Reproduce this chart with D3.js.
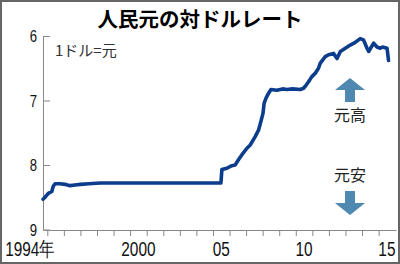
<!DOCTYPE html>
<html>
<head>
<meta charset="utf-8">
<script src="https://cdn.jsdelivr.net/npm/d3@7"></script>
<style>
  body { margin: 0; background: #fff; }
  svg { display: block; }
  text { font-family: "Liberation Sans", Arial, sans-serif; }
  .jp { font-family: "Noto Sans CJK JP", sans-serif; }
</style>
</head>
<body>
<svg id="chart" width="400" height="264"></svg>
<script>
// 人民元の対ドルレート (1ドル=元)
const years = [
    1994.74, 1994.86, 1995.06, 1995.27, 1995.36, 1995.47, 1995.77, 1996.07, 1996.37, 1996.67,
    1997.0, 1997.5, 1998.2, 1999.5, 2001.0, 2003.0, 2005.0, 2005.48,
    2005.54, 2005.84, 2006.14, 2006.34, 2006.54, 2006.75, 2007.05, 2007.25, 2007.55, 2007.75,
    2007.89, 2008.02, 2008.09, 2008.21, 2008.35, 2008.5, 2008.86, 2009.2, 2009.47, 2009.8,
    2010.27, 2010.47, 2010.63, 2010.77, 2010.97, 2011.17, 2011.37, 2011.48, 2011.78, 2011.98,
    2012.28, 2012.49, 2012.69, 2012.99, 2013.29, 2013.59, 2013.89, 2014.09, 2014.3, 2014.4,
    2014.7, 2014.9, 2015.1, 2015.24, 2015.51, 2015.6
];
const rates = [
    8.53, 8.5, 8.44, 8.41, 8.33, 8.29, 8.29, 8.3, 8.32, 8.31,
    8.3, 8.29, 8.28, 8.28, 8.28, 8.28, 8.28, 8.28,
    8.07, 8.05, 8.01, 8.0, 7.92, 7.84, 7.74, 7.69, 7.56, 7.46,
    7.33, 7.2, 7.04, 6.96, 6.89, 6.83, 6.84, 6.82, 6.83, 6.82,
    6.83, 6.81, 6.76, 6.71, 6.63, 6.58, 6.5, 6.42, 6.32, 6.29,
    6.27, 6.35, 6.24, 6.19, 6.14, 6.1, 6.04, 6.06, 6.19, 6.24,
    6.11, 6.17, 6.19, 6.17, 6.19, 6.38
];
const yTicks = [6, 7, 8, 9];
const xTickYears = d3.range(1995, 2016);
const xLabels = [
    { year: 1994, text: '1994年' },
    { year: 2000, text: '2000' },
    { year: 2005, text: '05' },
    { year: 2010, text: '10' },
    { year: 2015, text: '15' },
];

const svg = d3.select('#chart');

const x = d3.scaleLinear().domain([1994.74, 2016.05]).range([43, 396]);
const y = d3.scaleLinear().domain([6, 9]).range([36, 229.5]);

// frame
svg.append('rect')
    .attr('x', 1).attr('y', 1).attr('width', 398).attr('height', 262)
    .attr('fill', 'none').attr('stroke', '#666').attr('stroke-width', 2);

// title
svg.append('text').attr('class', 'jp')
    .attr('x', 200).attr('y', 27)
    .attr('text-anchor', 'middle')
    .style('font-size', '20.5px').style('font-weight', 'bold')
    .text('人民元の対ドルレート');

svg.append('text').attr('class', 'jp')
    .attr('x', 55).attr('y', 56)
    .style('font-size', '15px').attr('fill', '#333')
    .text('1ドル=元');

// y axis, ticks pointing inward
const yAxis = svg.append('g')
    .attr('transform', 'translate(43,0)')
    .call(d3.axisLeft(y).tickValues(yTicks).tickFormat(d3.format('d'))
        .tickSizeInner(-7).tickSizeOuter(0));
yAxis.selectAll('path, line').attr('stroke', '#888');
yAxis.selectAll('.tick text')
    .attr('x', 0)
    .attr('dy', '0.36em')
    .attr('text-anchor', 'end')
    .attr('transform', 'translate(-6,0) scale(0.82,1)')
    .style('font-size', '16px').attr('fill', '#111');

// x axis
const xAxis = svg.append('g')
    .attr('transform', 'translate(0,230)')
    .call(d3.axisBottom(x).tickValues(xTickYears).tickFormat('').tickSizeInner(6).tickSizeOuter(0));
xAxis.selectAll('path, line').attr('stroke', '#888');

svg.append('g').selectAll('text').data(xLabels).enter().append('text')
    .attr('transform', d => `translate(${d.year === 1994 ? 30 : x(d.year + 0.5)},256) scale(0.77,1)`)
    .attr('text-anchor', 'middle')
    .style('font-size', '20px').attr('fill', '#111')
    .text(d => d.text);

// line
const line = d3.line().x((d, i) => x(years[i])).y(d => y(d));
svg.append('path')
    .datum(rates)
    .attr('d', line)
    .attr('fill', 'none')
    .attr('stroke', '#0c3d8c')
    .attr('stroke-width', 3.6)
    .attr('stroke-linejoin', 'round')
    .attr('stroke-linecap', 'round');

// arrows
const arrowColor = '#4f88b0';
function arrow(cx, tipY, dir) {
    // dir -1: up, 1: down
    const head = 12, shaftLen = 12;
    const baseY = tipY - dir * head;
    const endY = baseY - dir * shaftLen;
    const pts = [
        [cx, tipY], [cx + 15, baseY], [cx + 5, baseY], [cx + 5, endY],
        [cx - 5, endY], [cx - 5, baseY], [cx - 15, baseY],
    ];
    svg.append('path')
        .attr('d', d3.line()(pts) + 'Z')
        .attr('fill', arrowColor);
}
arrow(350, 78, -1);
arrow(350, 215, 1);

svg.append('text').attr('class', 'jp')
    .attr('x', 350).attr('y', 121).attr('text-anchor', 'middle')
    .style('font-size', '16px').attr('fill', '#222')
    .text('元高');
svg.append('text').attr('class', 'jp')
    .attr('x', 350).attr('y', 181).attr('text-anchor', 'middle')
    .style('font-size', '16px').attr('fill', '#222')
    .text('元安');
</script>
</body>
</html>
